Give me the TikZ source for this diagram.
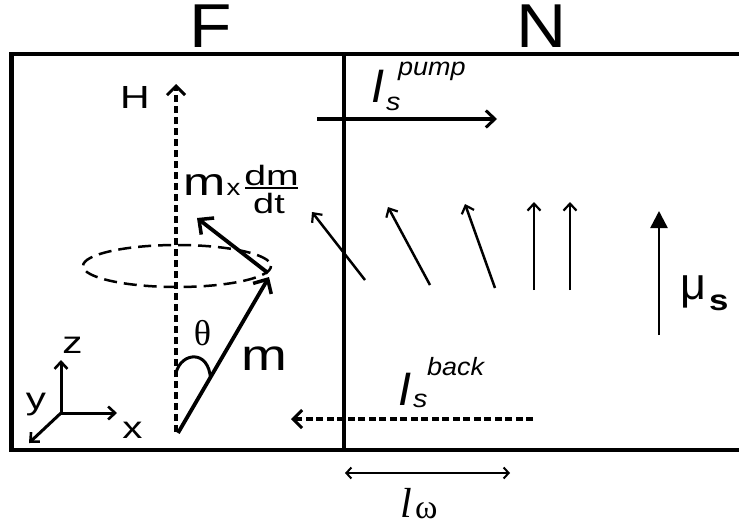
\documentclass[tikz,border=0pt]{standalone}
\usepackage{fontspec}
\usepackage{graphicx}
\setmainfont{Liberation Sans}
\newfontfamily\serifface{Liberation Serif}
\usetikzlibrary{arrows.meta}
\newcommand\myfs[1]{\fontsize{#1}{#1}\selectfont}
\newcommand\wide[2]{\scalebox{#1}[1]{#2}}
\begin{document}
\begin{tikzpicture}[x=1pt,y=-1pt,
  border/.style={line width=4.5pt,line join=miter},
  bigarr/.style={line width=3.8pt,-{Straight Barb[length=11pt,width=21pt,line width=3.5pt]}},
  midarr/.style={line width=3.5pt,-{Straight Barb[length=9pt,width=17pt,line width=3pt]}},
  thinarr/.style={line width=2.5pt,-{Straight Barb[length=7pt,width=13pt,line width=2.2pt]}},
  axarr/.style={line width=3pt,-{Straight Barb[length=7pt,width=13pt,line width=2.6pt]}},
  dasharr/.style={line width=3.5pt,dash pattern=on 7pt off 3.5pt,-{Straight Barb[length=9pt,width=18pt,line width=3pt]}},
  lbl/.style={inner sep=0pt,outer sep=0pt},
  region/.style={lbl,anchor=base,font=\myfs{62},text height=44pt,text depth=0pt},
]
\useasboundingbox (0,0) rectangle (739,530);

% frame
\coordinate (tr) at (739,54);
\coordinate (tl) at (11.5,54);
\coordinate (bl) at (11.5,450);
\coordinate (br) at (739,450);
\coordinate (mt) at (344,54);
\coordinate (mb) at (344,450);
\draw[border] (tr) -- (tl) -- (bl) -- (br);
\draw[border] (mt) -- (mb);

% region labels
\node[region] (F) at (211,47) {\wide{1.12}{F}};
\node[region] (N) at (542,47) {\wide{1.12}{N}};

% H axis
\coordinate (Hs) at (176,432);
\coordinate (He) at (176,84);
\draw[dasharr,dash pattern=on 7pt off 4pt] (Hs) -- (He);
\node[lbl,anchor=base,font=\myfs{32}] (H) at (135,108) {\wide{1.28}{H}};

% precession ellipse
\draw[line width=2.5pt,dash pattern=on 13pt off 7pt] (177,266) ellipse [x radius=94, y radius=21];

% m and m x dm/dt
\coordinate (mS) at (178,433);
\coordinate (mE) at (269,277);
\coordinate (dS) at (268,273);
\coordinate (dE) at (197,218);
\draw[bigarr] (mS) -- (mE);
\draw[bigarr] (dS) -- (dE);
\node[lbl,anchor=base west,font=\myfs{39}] (mm) at (183,195) {\wide{1.3}{m}};
\node[lbl,anchor=base west,font=\myfs{23}] (xx) at (226.5,195) {\wide{1.2}{x}};
\node[lbl,anchor=base,font=\myfs{28}] (dm) at (271.5,185) {\wide{1.4}{dm}};
\draw[line width=1.6pt] (245,188) -- (298,188);
\node[lbl,anchor=base,font=\myfs{28}] (dt) at (269,213) {\wide{1.35}{dt}};

% theta
\draw[line width=3pt] (176,373) .. controls (181,352) and (209,349) .. (210.5,379);
\node[lbl,font=\serifface\myfs{36}] (th) at (202.5,333) {θ};
\node[lbl,anchor=base west,font=\myfs{44}] (mlab) at (241,370) {\wide{1.25}{m}};

% axes
\coordinate (O) at (61,413);
\coordinate (Z) at (61,360);
\coordinate (X) at (117,413);
\coordinate (Y) at (29,443);
\draw[axarr] (O) -- (Z);
\draw[axarr] (O) -- (X);
\draw[axarr] (O) -- (Y);
\node[lbl,anchor=base,font=\myfs{31}] (zl) at (72.5,353) {\wide{1.3}{z}};
\node[lbl,anchor=base,font=\myfs{31}] (yl) at (36,409) {\wide{1.3}{y}};
\node[lbl,anchor=base,font=\myfs{31}] (xl) at (132.5,438) {\wide{1.3}{x}};

% spin pumping current
\coordinate (pS) at (317,119);
\coordinate (pE) at (497,119);
\draw[midarr] (pS) -- (pE);
\node[lbl,anchor=base west,font=\itshape\myfs{47}] (Ip) at (371,102) {I};
\node[lbl,anchor=base west,font=\itshape\myfs{25}] (sp) at (386,110) {\wide{1.15}{s}};
\node[lbl,anchor=base west,font=\itshape\myfs{25}] (pump) at (398,75) {\wide{1.08}{pump}};

% spin accumulation arrows
\coordinate (a1s) at (365,280); \coordinate (a1e) at (312,212);
\coordinate (a2s) at (430,285); \coordinate (a2e) at (388,207);
\coordinate (a3s) at (495,288); \coordinate (a3e) at (465,204);
\coordinate (a4s) at (534,290); \coordinate (a4e) at (534,202);
\coordinate (a5s) at (570,290); \coordinate (a5e) at (570,202);
\foreach \i in {1,...,5} {\draw[thinarr] (a\i s) -- (a\i e);}

% mu_s
\coordinate (muS) at (659,335);
\coordinate (muE) at (659,211);
\draw[line width=2.5pt,-{Triangle[length=17pt,width=17pt]}] (muS) -- (muE);
\node[lbl,anchor=base west,font=\myfs{45}] (mu) at (680,299) {μ};
\node[lbl,anchor=base west,font=\bfseries\myfs{29}] (mus) at (709,310) {\wide{1.2}{s}};

% backflow
\coordinate (bS) at (533,419);
\coordinate (bE) at (291,419);
\draw[dasharr] (bS) -- (bE);
\node[lbl,anchor=base west,font=\itshape\myfs{47}] (Ib) at (398,405) {I};
\node[lbl,anchor=base west,font=\itshape\myfs{25}] (sb) at (413,407) {\wide{1.15}{s}};
\node[lbl,anchor=base west,font=\itshape\myfs{25}] (back) at (427,375) {\wide{1.08}{back}};

% l_omega
\coordinate (lS) at (345,473);
\coordinate (lE) at (510,473);
\draw[line width=2pt,{Straight Barb[length=5pt,width=11pt]}-{Straight Barb[length=5pt,width=11pt]}] (lS) -- (lE);
\node[lbl,anchor=base west,font=\serifface\itshape\myfs{42}] (ll) at (400,517) {l};
\node[lbl,anchor=base west,font=\serifface\myfs{34}] (om) at (415,518) {ω};
\end{tikzpicture}
\end{document}
